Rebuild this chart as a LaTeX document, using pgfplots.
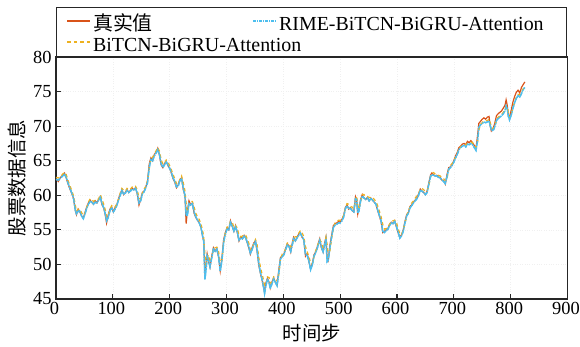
\documentclass[border=0pt]{standalone}
\usepackage{fontspec}
\setmainfont{Liberation Serif}
\newfontfamily\cjk{Noto Sans CJK SC}
\usepackage{pgfplots}
\usepackage{pgfplotstable}
\pgfplotsset{compat=1.18}
\definecolor{cred}{rgb}{0.85,0.325,0.098}
\definecolor{cyel}{rgb}{0.929,0.694,0.125}
\definecolor{cblu}{rgb}{0.302,0.745,0.933}
\pgfplotstableread{
x t b r
0 62.4 62.6 62.3
4 62.0 62.5 62.2
8 62.6 62.7 62.5
12 62.9 63.1 62.8
15 63.2 63.3 63.0
18 62.5 63.0 62.6
21 61.7 62.2 61.8
25 60.8 61.3 60.9
28 60.2 60.6 60.3
31 59.5 59.9 59.5
34 57.8 58.6 57.9
36 57.2 57.7 57.3
39 58.0 58.0 57.7
42 57.6 58.0 57.7
45 57.0 57.5 57.0
48 56.7 57.1 56.6
51 57.5 57.4 57.3
54 58.3 58.2 58.1
57 58.9 59.0 58.7
60 59.3 59.5 59.1
63 59.0 59.4 59.0
66 58.7 59.1 58.7
69 59.2 59.3 59.0
72 58.9 59.3 58.9
75 59.4 59.5 59.3
78 59.8 60.1 59.7
81 58.6 59.4 58.8
84 58.2 58.7 58.2
87 57.0 57.8 57.2
89 56.0 56.9 56.3
92 57.2 57.0 56.8
95 58.0 58.0 57.8
98 58.3 58.5 58.2
101 57.6 58.2 57.6
104 58.2 58.3 58.0
107 58.6 58.8 58.5
110 59.5 59.4 59.3
113 60.2 60.3 60.0
116 60.8 61.0 60.7
119 60.1 60.7 60.2
122 60.4 60.6 60.3
125 60.8 61.0 60.7
128 60.4 60.8 60.4
131 60.7 60.9 60.6
134 61.0 61.2 60.9
137 60.8 61.1 60.8
140 61.1 61.3 61.0
143 60.2 60.8 60.3
146 58.6 59.6 58.9
149 59.4 59.4 59.2
152 60.4 60.3 60.2
155 60.6 60.9 60.5
158 61.2 61.3 61.1
161 62.0 62.1 61.8
164 64.5 63.7 64.0
167 65.4 65.3 65.2
170 65.0 65.5 65.0
173 65.9 66.0 65.7
176 66.2 66.4 66.1
179 66.8 66.9 66.6
182 65.8 66.4 65.9
185 64.4 65.2 64.6
188 64.0 64.5 64.0
191 64.6 64.6 64.4
194 64.9 65.1 64.8
197 64.3 64.8 64.4
200 63.9 64.3 63.9
203 63.2 63.7 63.3
206 62.4 63.0 62.5
209 61.9 62.4 62.0
212 61.1 61.7 61.2
215 61.5 61.6 61.3
218 62.3 62.3 62.1
221 62.5 62.8 62.4
224 60.8 61.8 61.0
227 59.9 60.6 60.0
229 55.9 58.9 57.2
231 57.6 57.4 57.0
234 59.2 58.9 58.8
237 58.6 59.1 58.6
240 58.9 59.1 58.8
243 57.4 58.3 57.6
246 56.8 57.4 56.9
249 56.4 56.9 56.4
252 56.0 56.5 56.0
255 55.4 55.9 55.4
258 54.0 54.9 54.1
260 53.4 53.9 53.3
262 48.6 51.5 47.8
264 49.8 49.6 49.2
266 51.5 51.0 51.2
268 50.6 51.4 50.8
271 49.6 50.4 49.7
274 51.2 51.0 50.9
277 52.4 52.3 52.2
280 51.9 52.4 51.9
283 52.3 52.5 52.2
286 51.1 51.9 51.2
289 49.1 50.3 49.0
292 51.0 50.6 50.6
295 53.6 53.0 53.2
298 54.6 54.6 54.4
301 55.3 55.4 55.1
304 55.0 55.5 55.0
307 56.3 56.2 56.1
310 55.5 56.2 55.6
313 54.8 55.3 54.8
316 55.6 55.6 55.4
319 54.6 55.3 54.7
322 53.4 54.2 53.5
325 54.0 54.0 53.8
328 53.7 54.1 53.7
331 54.2 54.3 54.1
334 53.8 54.2 53.8
337 53.0 53.6 53.1
340 52.2 52.9 52.3
342 51.5 52.1 51.6
345 52.4 52.2 52.1
348 53.1 53.0 52.9
351 53.4 53.6 53.3
354 51.8 52.8 52.0
357 49.8 50.9 50.0
360 48.6 49.5 48.7
363 47.6 48.5 47.7
365 46.8 47.8 46.8
367 46.0 47.0 45.8
369 47.2 46.9 46.8
372 48.0 48.2 47.8
375 47.4 48.1 47.4
377 46.6 47.3 46.5
380 47.5 47.4 47.2
383 48.0 48.2 47.9
386 47.4 48.0 47.4
389 47.0 47.6 46.9
392 49.2 48.5 48.8
395 51.0 50.7 50.8
398 51.2 51.5 51.1
401 51.5 51.7 51.4
404 52.3 52.3 52.1
407 53.0 53.1 52.8
410 52.6 53.1 52.6
413 51.8 52.5 51.9
416 53.2 52.9 52.9
418 53.9 53.8 53.7
421 53.4 54.0 53.4
424 53.9 54.0 53.8
427 54.4 54.5 54.2
430 54.6 54.9 54.5
433 53.9 54.6 54.0
436 53.6 54.0 53.6
439 51.2 52.6 51.4
442 51.6 51.8 51.3
445 50.4 51.2 50.5
448 49.4 50.2 49.2
451 50.1 50.1 49.9
454 51.4 51.1 51.2
457 51.8 52.0 51.7
460 52.6 52.7 52.4
464 53.7 53.6 53.5
467 52.4 53.2 52.5
470 51.8 52.3 51.8
473 53.2 52.8 53.0
475 53.9 53.9 53.7
477 51.0 53.0 50.4
479 50.6 51.2 50.6
482 52.8 52.0 52.4
485 54.2 53.8 54.0
488 55.6 55.2 55.3
491 55.9 56.0 55.7
494 56.0 56.2 55.8
497 56.2 56.4 56.0
500 56.1 56.4 56.0
503 56.5 56.6 56.3
506 57.0 57.1 56.8
509 58.2 58.0 58.0
512 58.6 58.8 58.5
515 58.0 58.7 58.1
518 58.2 58.4 58.1
521 57.8 58.3 57.8
524 57.6 58.0 57.6
527 59.8 59.1 59.5
529 59.4 59.9 59.4
531 57.3 58.6 57.4
533 58.0 58.0 57.7
536 59.4 59.1 59.2
539 60.1 60.1 59.9
542 59.6 60.1 59.6
545 59.4 59.8 59.4
548 59.7 59.8 59.6
551 59.2 59.7 59.2
554 59.6 59.7 59.5
557 59.3 59.7 59.3
560 59.0 59.4 59.0
563 58.7 59.1 58.7
566 57.8 58.5 57.9
569 57.0 57.7 57.1
572 56.2 56.9 56.3
575 54.6 55.8 54.8
578 54.8 55.1 54.6
581 55.0 55.2 54.9
584 55.2 55.4 55.1
587 55.8 55.8 55.6
590 56.1 56.3 56.0
593 55.9 56.3 55.9
596 56.3 56.4 56.2
599 55.4 56.1 55.5
602 54.6 55.2 54.7
605 53.9 54.5 53.8
608 54.3 54.3 54.1
611 55.0 55.0 54.8
614 56.2 55.9 56.0
617 57.2 57.0 57.0
620 57.5 57.8 57.4
623 58.4 58.3 58.2
626 58.6 58.9 58.5
629 59.0 59.2 58.9
632 59.3 59.6 59.2
635 59.6 59.9 59.5
638 60.2 60.2 60.0
641 60.9 60.9 60.7
644 60.6 61.0 60.6
647 60.4 60.8 60.4
650 60.1 60.5 60.1
653 60.6 60.6 60.4
656 61.8 61.4 61.6
659 62.9 62.6 62.7
661 63.2 63.2 63.0
664 63.0 63.3 62.9
667 62.8 63.1 62.8
670 62.9 63.0 62.8
673 62.6 62.9 62.6
676 62.6 62.8 62.5
679 62.2 62.6 62.2
682 62.1 62.4 62.0
685 61.6 62.1 61.7
688 63.0 62.4 62.7
691 64.0 63.7 63.8
694 64.1 64.3 64.0
697 64.5 64.6 64.3
700 65.0 65.0 64.8
703 65.7 65.5 65.4
706 66.2 66.0 65.9
709 66.9 66.6 66.6
712 67.1 67.0 66.9
715 67.4 67.2 67.1
718 67.5 67.3 67.2
721 67.3 67.3 67.0
724 67.8 67.5 67.4
727 67.6 67.6 67.3
730 67.9 67.7 67.5
733 67.6 67.6 67.3
736 67.2 67.3 66.9
739 66.8 66.9 66.5
742 68.8 67.8 68.0
744 70.4 69.4 69.8
747 70.7 70.3 70.2
750 71.0 70.5 70.4
753 71.2 70.8 70.6
756 71.0 70.8 70.5
759 71.3 70.8 70.6
762 71.4 71.0 70.8
764 70.0 70.6 70.1
766 69.3 69.8 69.5
769 69.6 69.6 69.3
772 70.4 70.0 69.9
775 71.5 70.9 70.8
778 71.8 71.3 71.1
781 72.0 71.5 71.3
784 72.2 71.7 71.5
787 72.6 72.0 71.8
790 73.0 72.4 72.2
792 73.8 72.9 72.9
794 73.0 72.8 72.5
796 71.6 72.0 71.4
798 71.3 71.3 70.9
801 72.3 71.7 71.6
804 73.5 72.7 72.6
807 74.3 73.5 73.4
810 74.9 74.2 74.0
813 75.2 74.6 74.4
816 74.8 74.5 74.2
819 75.6 74.9 74.7
822 76.0 75.4 75.3
825 76.4 75.8 75.6
}\data
\begin{document}
\begin{tikzpicture}
\useasboundingbox (-56bp,-48bp) rectangle (524bp,299bp);
\begin{axis}[
  at={(0,0)}, anchor=south west,
  scale only axis, width=511.5bp, height=242bp,
  xmin=0, xmax=900, ymin=45, ymax=80,
  xtick={0,100,...,900}, ytick={45,50,...,80},
  tick align=inside, tick pos=left,
  major tick length=5bp,
  axis line style={line width=1.3pt, black!85},
  every tick/.style={black!85, line width=1.1pt},
  ticklabel style={font=\fontsize{18.5}{22}\selectfont},
  xticklabel style={xshift=-1.5bp},
  yticklabel style={xshift=-1bp},
  /pgf/number format/assume math mode=true,
  grid=major, grid style={gray!12, dotted, line width=0.6pt},
  xlabel={\cjk 时间步}, ylabel={\cjk 股票数据信息},
  label style={font=\fontsize{19.5}{22}\selectfont},
  xlabel style={yshift=-2bp},
  legend columns=2,
  legend cell align=left,
  legend image code/.code={\draw[#1, line width=1.5pt] (0bp,0.5bp) -- (23bp,0.5bp);},
  legend style={at={(0,1)}, anchor=south west, draw=black!85, line width=1.3pt,
    font=\fontsize{20}{22}\selectfont, inner xsep=10bp, inner ysep=5bp,
    row sep=3bp,
    nodes={inner ysep=0bp, text height=18bp, text depth=0bp},
    /tikz/every even column/.append style={column sep=0bp}},
]
\addplot[color=cred, solid, line width=1.2pt] table[x=x, y=t] {\data};
\addlegendentry{\makebox[157.5bp][l]{\cjk 真实值}}
\addplot[color=cblu, dash pattern=on 3pt off 1pt on 1pt off 1pt, line width=1.4pt] table[x=x, y=r] {\data};
\addlegendentry{\makebox[275.5bp][l]{RIME-BiTCN-BiGRU-Attention}}
\addplot[color=cyel, dash pattern=on 3.5pt off 3pt, line width=1.2pt] table[x=x, y=b] {\data};
\addlegendentry{\makebox[157.5bp][l]{BiTCN-BiGRU-Attention}}
\addplot[color=cblu, dash pattern=on 5pt off 1.2pt on 1.5pt off 1.2pt, line width=1.4pt, forget plot] table[x=x, y=r] {\data};
\end{axis}
\end{tikzpicture}
\end{document}
